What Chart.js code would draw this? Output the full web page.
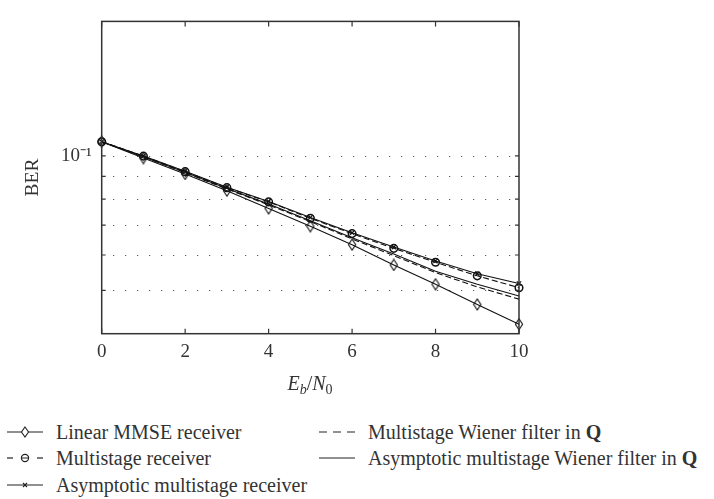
<!DOCTYPE html>
<html><head><meta charset="utf-8">
<script src="https://cdn.jsdelivr.net/npm/chart.js@4.4.0/dist/chart.umd.min.js"></script>
<style>
html,body{margin:0;padding:0;background:#fff;}
#wrap{position:relative;width:714px;height:499px;overflow:hidden;font-family:"Liberation Serif","DejaVu Serif",serif;color:#333;}
#c{position:absolute;left:0;top:0;}
.lg{position:absolute;font-size:20px;line-height:20px;white-space:nowrap;}
.sw{position:absolute;}
#xt{position:absolute;font-size:20px;line-height:22px;white-space:nowrap;transform:translateX(-50%);}
#xt sub{font-size:14px;vertical-align:-4px;line-height:0;}
</style></head><body>
<div id="wrap">
<canvas id="c" width="714" height="400"></canvas>
<div id="xt" style="left:310px;top:372px;"><i>E</i><sub><i>b</i></sub>/<i>N</i><sub>0</sub></div>

<svg class="sw" style="left:0;top:420px" width="50" height="24"><line x1="7" y1="12" x2="43" y2="12" stroke="#222" stroke-width="1.2"/><polygon points="25,7 28.5,12 25,17 21.5,12" fill="#fff" stroke="#222" stroke-width="1.1"/></svg>
<div class="lg" style="left:56px;top:422px">Linear MMSE receiver</div>

<svg class="sw" style="left:0;top:446px" width="50" height="24"><line x1="7" y1="12" x2="13" y2="12" stroke="#222" stroke-width="1.2"/><line x1="37" y1="12" x2="43" y2="12" stroke="#222" stroke-width="1.2"/><circle cx="25" cy="12" r="3.6" fill="none" stroke="#222" stroke-width="1.2"/><line x1="21.5" y1="12" x2="28.5" y2="12" stroke="#222" stroke-width="1"/></svg>
<div class="lg" style="left:56px;top:448px">Multistage receiver</div>

<svg class="sw" style="left:0;top:473px" width="50" height="24"><line x1="7" y1="12" x2="43" y2="12" stroke="#222" stroke-width="1.2"/><line x1="23" y1="10" x2="27" y2="14" stroke="#222" stroke-width="1.1"/><line x1="23" y1="14" x2="27" y2="10" stroke="#222" stroke-width="1.1"/></svg>
<div class="lg" style="left:56px;top:475px">Asymptotic multistage receiver</div>

<svg class="sw" style="left:312px;top:420px" width="50" height="24"><line x1="7" y1="12" x2="43" y2="12" stroke="#222" stroke-width="1.2" stroke-dasharray="8,6"/></svg>
<div class="lg" style="left:368px;top:422px">Multistage Wiener filter in <b>Q</b></div>

<svg class="sw" style="left:312px;top:446px" width="50" height="24"><line x1="7" y1="12" x2="43" y2="12" stroke="#222" stroke-width="1.2"/></svg>
<div class="lg" style="left:368px;top:448px">Asymptotic multistage Wiener filter in <b>Q</b></div>
</div>
<script>
// ---- data ----
const ebn0 = [0, 1, 2, 3, 4, 5, 6, 7, 8, 9, 10];
const linearMMSE     = [0.1076, 0.0989, 0.0911, 0.0836, 0.0763, 0.0696, 0.0633, 0.0570, 0.0516, 0.0465, 0.0420];
const multistage     = [0.1076, 0.0999, 0.0922, 0.0849, 0.0789, 0.0725, 0.0670, 0.0621, 0.0578, 0.0539, 0.0507];
const asymMultistage = [0.1076, 0.1000, 0.0924, 0.0851, 0.0791, 0.0728, 0.0673, 0.0625, 0.0582, 0.0545, 0.0518];
const mwfQ           = [0.1076, 0.0995, 0.0917, 0.0843, 0.0777, 0.0713, 0.0652, 0.0598, 0.0548, 0.0509, 0.0478];
const asymMwfQ       = [0.1076, 0.0996, 0.0919, 0.0845, 0.0780, 0.0716, 0.0656, 0.0603, 0.0552, 0.0516, 0.0486];
const xTickValues = [0, 2, 4, 6, 8, 10];
const yTickValues = [0.05, 0.06, 0.07, 0.08, 0.09, 0.1];
const yLabeled = 0.1;
const yLabelText = '10\u207B\u00B9';

const pts = arr => ebn0.map((x, i) => ({x: x, y: arr[i]}));

function diamondImg() {
  const c = document.createElement('canvas'); c.width = 10; c.height = 13;
  const g = c.getContext('2d'); g.strokeStyle = '#111'; g.lineWidth = 1.1;
  g.beginPath(); g.moveTo(5, 1); g.lineTo(8.6, 6.5); g.lineTo(5, 12); g.lineTo(1.4, 6.5); g.closePath(); g.stroke();
  return c;
}

const framePlugin = {
  id: 'frame',
  beforeDatasetsDraw(chart) {
    const {ctx, chartArea: a, scales: {y}} = chart;
    ctx.save(); ctx.strokeStyle = '#333'; ctx.lineWidth = 1; ctx.setLineDash([1, 11]);
    yTickValues.forEach(v => {
      const py = Math.round(y.getPixelForValue(v)) + 0.5;
      ctx.beginPath(); ctx.moveTo(a.left + 11.5, py); ctx.lineTo(a.right - 2, py); ctx.stroke();
    });
    ctx.restore();
  },
  afterDraw(chart) {
    const {ctx, chartArea: a, scales: {x, y}} = chart;
    ctx.save(); ctx.strokeStyle = '#333'; ctx.lineWidth = 1.5; ctx.setLineDash([]);
    ctx.strokeRect(a.left, a.top, a.right - a.left, a.bottom - a.top);
    ctx.lineWidth = 1.2;
    xTickValues.forEach(v => {
      const px = x.getPixelForValue(v);
      ctx.beginPath(); ctx.moveTo(px, a.bottom); ctx.lineTo(px, a.bottom - 5);
      ctx.moveTo(px, a.top); ctx.lineTo(px, a.top + 5); ctx.stroke();
    });
    yTickValues.forEach(v => {
      const py = y.getPixelForValue(v);
      ctx.beginPath(); ctx.moveTo(a.left, py); ctx.lineTo(a.left + 4, py);
      ctx.moveTo(a.right, py); ctx.lineTo(a.right - 4, py); ctx.stroke();
    });
    ctx.restore();
  }
};

const common = {borderWidth: 1.1, tension: 0, clip: false, pointHoverRadius: 0};
new Chart(document.getElementById('c'), {
  type: 'line',
  data: {
    datasets: [
      Object.assign({label: 'Multistage Wiener filter in Q', data: pts(mwfQ), borderColor: '#111', borderDash: [6, 3], pointRadius: 0}, common),
      Object.assign({label: 'Asymptotic multistage Wiener filter in Q', data: pts(asymMwfQ), borderColor: '#111', pointRadius: 0}, common),
      Object.assign({label: 'Linear MMSE receiver', data: pts(linearMMSE), borderColor: '#111', pointStyle: diamondImg(), pointRadius: 5, backgroundColor: 'rgba(0,0,0,0)'}, common),
      Object.assign({label: 'Asymptotic multistage receiver', data: pts(asymMultistage), borderColor: '#111', pointStyle: 'crossRot', pointRadius: 3, pointBorderWidth: 1.2}, common),
      Object.assign({label: 'Multistage receiver', data: pts(multistage), borderColor: '#111', borderDash: [6, 3], pointStyle: 'circle', pointRadius: 3.8, pointBorderWidth: 1.5, pointBackgroundColor: 'rgba(0,0,0,0)'}, common)
    ]
  },
  options: {
    responsive: false, animation: false, devicePixelRatio: 1,
    layout: {padding: {top: 5, right: 195, left: 0, bottom: 0}},
    plugins: {legend: {display: false}, tooltip: {enabled: false}},
    scales: {
      x: {
        type: 'linear', min: 0, max: 10,
        afterBuildTicks: s => { s.ticks = xTickValues.map(v => ({value: v})); },
        afterFit: s => { s.height = 66.3; },
        grid: {display: false, drawTicks: false}, border: {display: false},
        ticks: {padding: 7, color: '#333', font: {family: 'Liberation Serif', size: 19}, maxRotation: 0},
        title: {display: false}
      },
      y: {
        type: 'logarithmic', min: 0.04, max: 0.2,
        afterBuildTicks: s => { s.ticks = yTickValues.map(v => ({value: v})); },
        afterFit: s => { s.width = 101.7; },
        grid: {display: false, drawTicks: false}, border: {display: false},
        ticks: {padding: 10, color: '#333', font: {family: 'Liberation Serif', size: 19},
          callback: v => Math.abs(v - yLabeled) < 1e-9 ? yLabelText : ''},
        title: {display: true, text: 'BER', color: '#333', font: {family: 'Liberation Serif', size: 19.5}, padding: {top: 21, bottom: 0}}
      }
    }
  },
  plugins: [framePlugin]
});
</script>
</body></html>
